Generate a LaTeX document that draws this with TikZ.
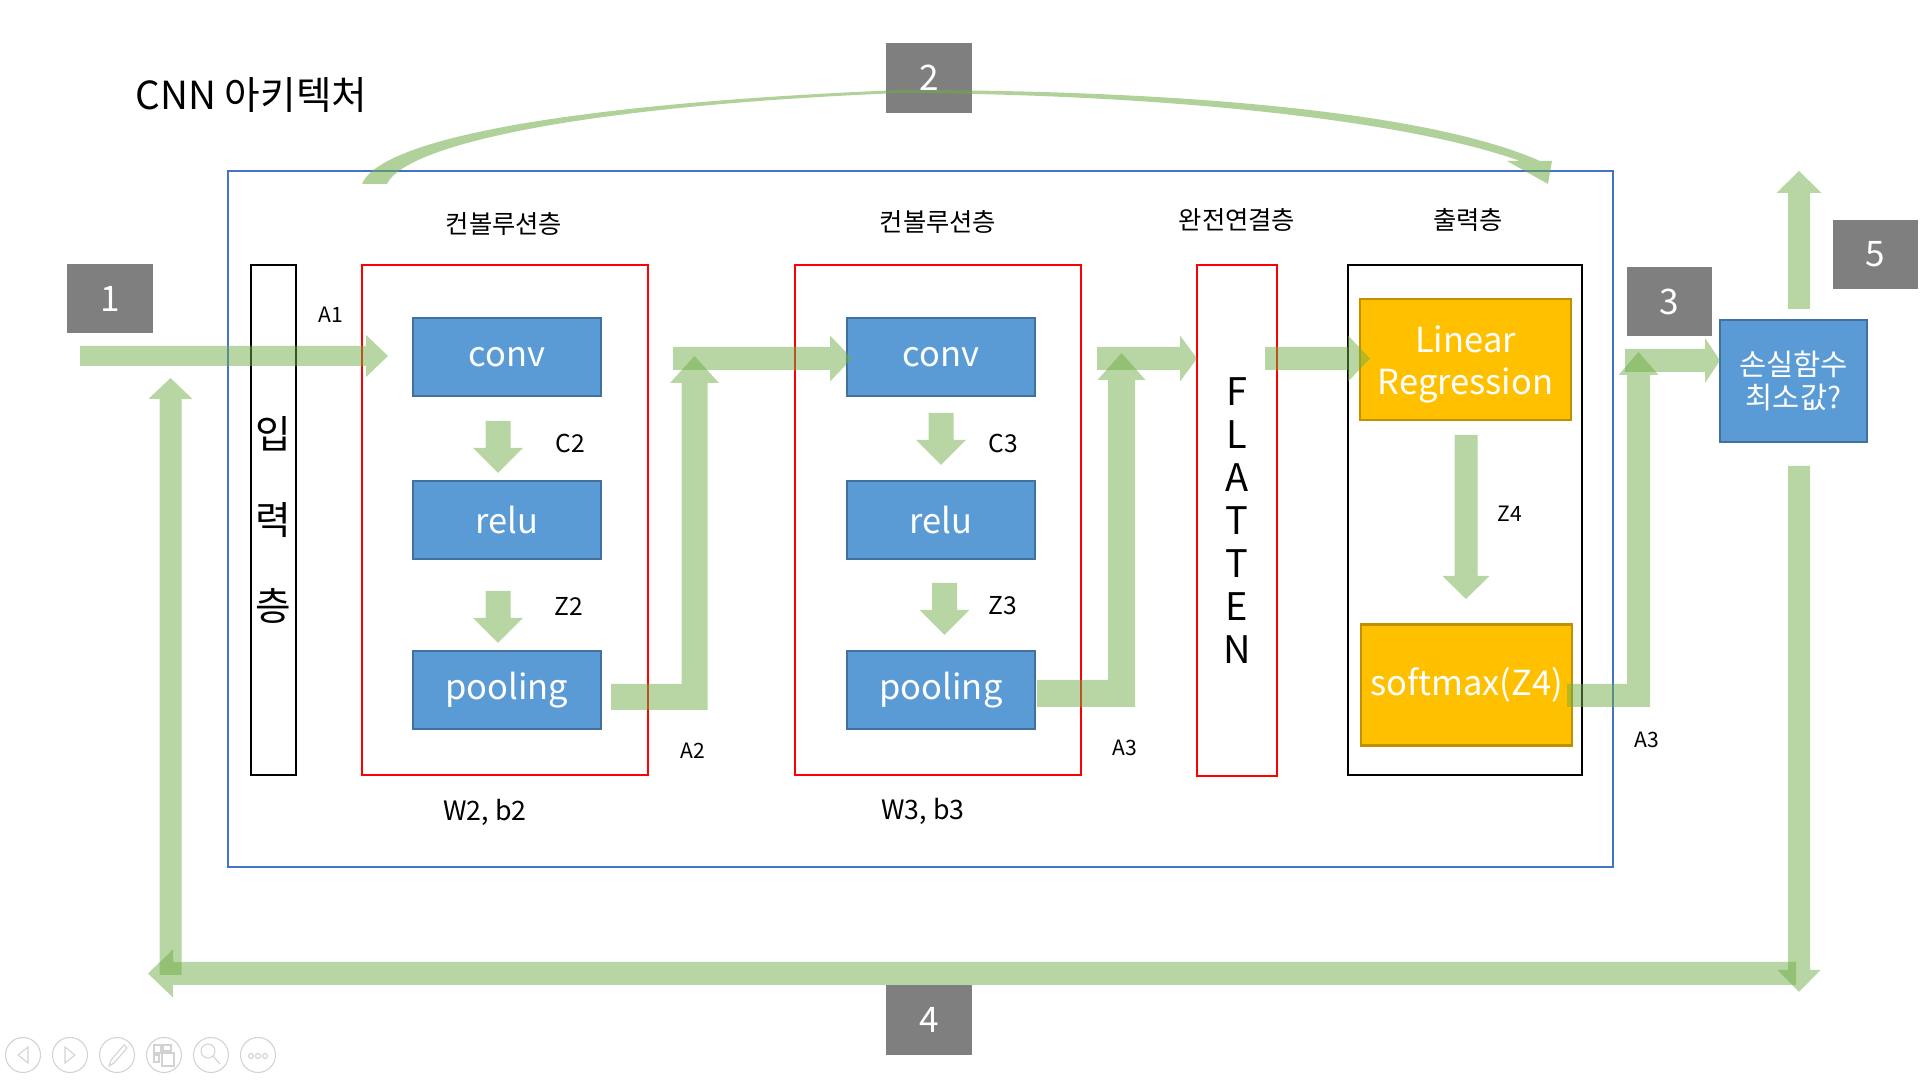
\documentclass[tikz,border=0pt]{standalone}
\usepackage{fontspec}
\setmainfont{Noto Sans CJK KR}
\usetikzlibrary{calc}

\definecolor{slidegray}{HTML}{7F7F7F}
\definecolor{opfill}{HTML}{5B9BD5}
\definecolor{opline}{HTML}{41719C}
\definecolor{goldfill}{HTML}{FFC000}
\definecolor{goldline}{HTML}{BF9000}
\definecolor{frameblue}{HTML}{4472C4}
\definecolor{flowgreen}{HTML}{70AD47}

% block arrow: start, tip, half shaft, half head, head length (px)
\newcommand\blockarrow[5]{%
  \coordinate (ab) at ($(#2)!{#5*0.01cm}!(#1)$);
  \fill[flow] ($(#1)!{#3*0.01cm}!90:(#2)$) -- ($(ab)!{#3*0.01cm}!90:(#2)$)
    -- ($(ab)!{#4*0.01cm}!90:(#2)$) -- (#2) -- ($(ab)!{#4*0.01cm}!-90:(#2)$)
    -- ($(ab)!{#3*0.01cm}!-90:(#2)$) -- ($(#1)!{#3*0.01cm}!-90:(#2)$) -- cycle;}

% bent arrow: right, then up to the tip
\newcommand\elbowarrow[5]{%
  \fill[flow] ($(#1)+(0,-#3)$) -- ($(#2 |- #1)+(-#3,-#3)$) -- ($(#2)+(-#3,#5)$)
    -- ($(#2)+(-#4,#5)$) -- (#2) -- ($(#2)+(#4,#5)$) -- ($(#2)+(#3,#5)$)
    -- ($(#2 |- #1)+(#3,#3)$) -- ($(#1)+(0,#3)$) -- cycle;}

\begin{document}
\begin{tikzpicture}[x=0.01cm,y=-0.01cm,line join=miter,
  every node/.append style={inner sep=0pt},
  numbox/.style={fill=slidegray,text=white,minimum width=.85cm,minimum height=.69cm,
    font=\fontsize{10}{12}\selectfont},
  opbox/.style={draw=opline,fill=opfill,line width=.6pt,text=white,minimum width=1.88cm,
    minimum height=.78cm,font=\fontsize{9.8}{12}\selectfont},
  goldbox/.style={draw=goldline,fill=goldfill,line width=.6pt,text=white,minimum width=2.11cm,
    minimum height=1.21cm,align=center,font=\fontsize{9.8}{12}\selectfont},
  layerbox/.style={draw=red,line width=.6pt,minimum height=5.1cm},
  hdr/.style={font=\fontsize{7.2}{8.5}\selectfont},
  tag/.style={font=\fontsize{7}{8}\selectfont},
  smalltag/.style={font=\fontsize{6}{7}\selectfont},
  flow/.style={fill=flowgreen,fill opacity=.5},
  tool/.style={draw=gray!35,line width=.3pt}]

\useasboundingbox (0,0) rectangle (1920,1080);

\node[anchor=west,font=\fontsize{11}{13}\selectfont] (title) at (135,95) {CNN 아키텍처};

\draw[frameblue,line width=.6pt] (228,171) rectangle (1613,867);

% layers
\node[layerbox,draw=black,minimum width=.45cm,align=center,
  font=\fontsize{11}{24.5}\selectfont] (inp) at (273.5,520) {입\\력\\층};
\node[layerbox,minimum width=2.86cm] (conv layer1) at (505,520) {};
\node[layerbox,minimum width=2.86cm] (conv layer2) at (938,520) {};
\node[layerbox,minimum width=.8cm,align=center,
  font=\fontsize{10.8}{12.2}\selectfont] (flat) at (1237,520.5) {F\\L\\A\\T\\T\\E\\N};
\node[layerbox,draw=black,minimum width=2.34cm] (outl) at (1465,520) {};

\node[hdr] (h1) at (504,224) {컨볼루션층};
\node[hdr] (h2) at (938,222) {컨볼루션층};
\node[hdr] (h3) at (1237,220) {완전연결층};
\node[hdr] (h4) at (1468,220) {출력층};

\node[opbox] (conv1) at (507,357) {conv};
\node[opbox] (relu1) at (507,520) {relu};
\node[opbox] (pool1) at (507,690) {pooling};
\node[opbox] (conv2) at (941,357) {conv};
\node[opbox] (relu2) at (941,520) {relu};
\node[opbox] (pool2) at (941,690) {pooling};
\node[goldbox] (linreg) at (1465.5,359.5) {\rule{0pt}{10.5pt}Linear\\Regression};
\node[goldbox] (smax) at (1466.5,685) {softmax(Z4)};
\node[opbox,minimum width=1.47cm,minimum height=1.22cm,align=center,
  font=\fontsize{8.4}{9.4}\selectfont] (loss) at (1793.5,381) {손실함수\\최소값?};

\node[numbox] (n1) at (110,298.5) {1};
\node[numbox] (n2) at (929,78) {2};
\node[numbox] (n3) at (1669.5,301.5) {3};
\node[numbox] (n4) at (929,1020) {4};
\node[numbox] (n5) at (1875.5,254.5) {5};

\node[smalltag] (a1) at (331,315) {A1};
\node[tag] (c2) at (570,443) {C2};
\node[tag] (z2) at (569,606) {Z2};
\node[smalltag] (a2) at (693,751) {A2};
\node[tag,font=\fontsize{7.6}{9}\selectfont] (w2) at (485,812) {W2, b2};
\node[tag] (c3) at (1003,443) {C3};
\node[tag] (z3) at (1003,606) {Z3};
\node[smalltag] (a3) at (1125,748) {A3};
\node[tag,font=\fontsize{7.6}{9}\selectfont] (w3) at (923,811) {W3, b3};
\node[smalltag] (z4) at (1510,514) {Z4};
\node[smalltag] (a3b) at (1647,740) {A3};

% flow arrows
\coordinate (inS) at (80,356);      \coordinate (inT) at (388,356);
\coordinate (c2S) at (673,358.5);   \coordinate (c2T) at (852,358.5);
\coordinate (flS) at (1097,358.5);  \coordinate (flT) at (1197,358.5);
\coordinate (lrS) at (1265,358.5);  \coordinate (lrT) at (1370,358.5);
\coordinate (lsS) at (1625,360.5);  \coordinate (lsT) at (1720,360.5);
\coordinate (upS) at (1799,309);    \coordinate (upT) at (1799,171);
\coordinate (dnS) at (1799,466);    \coordinate (dnT) at (1799,992);
\coordinate (btS) at (1796,973.5);  \coordinate (btT) at (148,973.5);
\coordinate (lbS) at (170.5,975);   \coordinate (lbT) at (170.5,378);

\blockarrow{inS}{inT}{10}{21}{22}
\blockarrow{c2S}{c2T}{11.5}{23}{22}
\blockarrow{flS}{flT}{11.5}{23}{17}
\blockarrow{lrS}{lrT}{11.5}{23}{22}
\blockarrow{lsS}{lsT}{11.5}{22.5}{15}
\blockarrow{upS}{upT}{11}{22.5}{22}
\blockarrow{dnS}{dnT}{11}{21.5}{22}
\blockarrow{btS}{btT}{11.5}{24}{25}
\blockarrow{lbS}{lbT}{11}{22}{21}

% inner steps
\coordinate (s1) at (498,421);   \coordinate (t1) at (498,473);
\coordinate (s2) at (498,591);   \coordinate (t2) at (498,643);
\coordinate (s3) at (941,413);   \coordinate (t3) at (941,465);
\coordinate (s4) at (944.5,583); \coordinate (t4) at (944.5,635);
\coordinate (s5) at (1466,435);  \coordinate (t5) at (1466,599);
\foreach \i in {1,...,4} {\blockarrow{s\i}{t\i}{12.5}{25}{25}}
\blockarrow{s5}{t5}{11.5}{23.5}{23}

% bent arrows out of pooling / softmax
\coordinate (e1) at (611,697);    \coordinate (f1) at (694.5,356);
\coordinate (e2) at (1037,693.5); \coordinate (f2) at (1121.5,353);
\coordinate (e3) at (1567,695.5); \coordinate (f3) at (1638.5,352);
\elbowarrow{e1}{f1}{13}{24.5}{27}
\elbowarrow{e2}{f2}{13.5}{24}{27}
\elbowarrow{e3}{f3}{11.5}{20}{23}

% curved arrow over the frame
\fill[flow,fill opacity=.55] (362,184) .. controls (380,140) and (560,104) .. (900,90)
  .. controls (1150,90) and (1420,108) .. (1540,161)
  -- (1552,161) -- (1548,184) -- (1507,161) -- (1520,161)
  .. controls (1400,118) and (1150,94) .. (900,93)
  .. controls (580,106) and (405,145) .. (387,184) -- cycle;

% slide show buttons
\foreach \x in {23,70,117,164,211,258} \draw[tool] (\x,1055) circle (17.5);
\draw[tool] (28,1047) -- (18,1055) -- (28,1063) -- cycle;
\draw[tool] (65,1047) -- (75,1055) -- (65,1063) -- cycle;
\draw[tool] (109,1066) -- (111,1060) -- (124,1045) -- (127,1048) -- (114,1063) -- cycle;
\draw[tool] (154,1045) rectangle (161,1053) (163,1045) rectangle (171,1051)
  (154,1055) rectangle (159,1062) (162,1053) rectangle (174,1066);
\draw[tool] (208,1051) circle (7) (213,1056) -- (220,1064);
\foreach \x in {251,258,265} \draw[tool] (\x,1056) circle (2.5);

\end{tikzpicture}
\end{document}
